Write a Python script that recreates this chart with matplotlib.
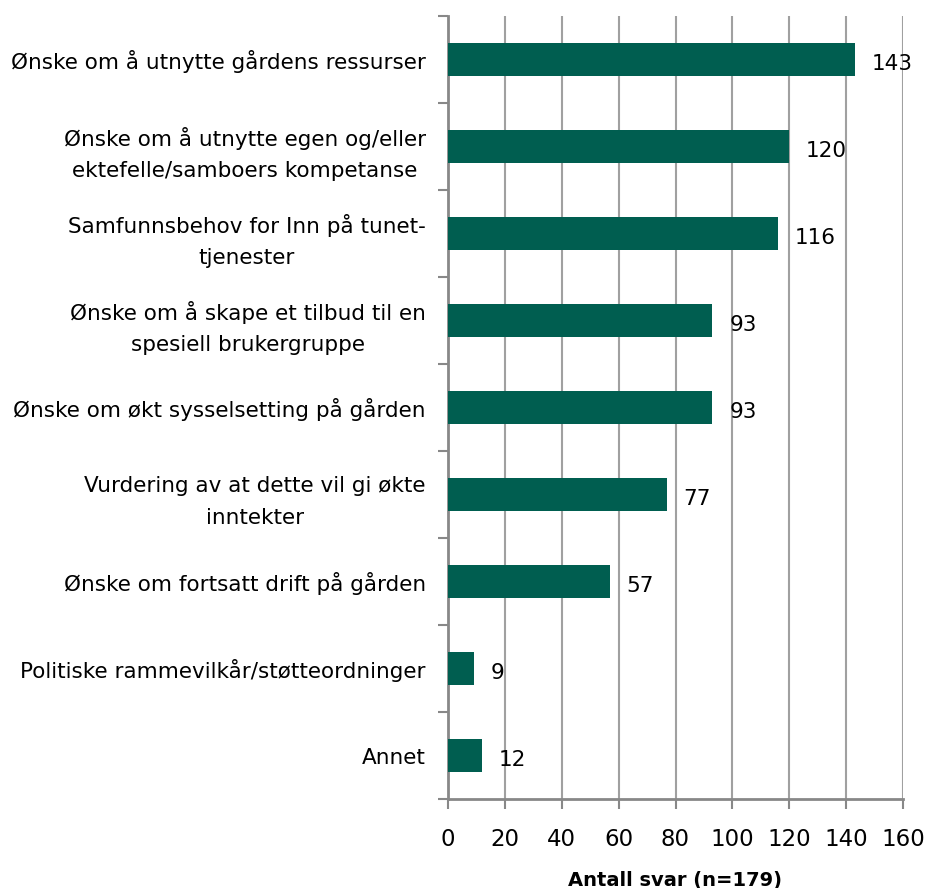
import matplotlib
matplotlib.use("Agg")
import matplotlib.pyplot as plt

# categories listed top to bottom
categories = [
    "Ønske om å utnytte gårdens ressurser",
    "Ønske om å utnytte egen og/eller\nektefelle/samboers kompetanse",
    "Samfunnsbehov for Inn på tunet-\ntjenester",
    "Ønske om å skape et tilbud til en\nspesiell brukergruppe",
    "Ønske om økt sysselsetting på gården",
    "Vurdering av at dette vil gi økte\ninntekter",
    "Ønske om fortsatt drift på gården",
    "Politiske rammevilkår/støtteordninger",
    "Annet",
]
counts = [143, 120, 116, 93, 93, 77, 57, 9, 12]
xticks = [0, 20, 40, 60, 80, 100, 120, 140, 160]

bar_color = "#005E50"
grid_color = "#A0A0A0"
font = "DejaVu Sans"

fig = plt.figure(figsize=(9.27, 8.88), dpi=100)
ax = fig.add_axes([448 / 927, 1 - 799 / 888, 455 / 927, 783 / 888])

pos = list(range(len(categories)))
ax.barh(pos, counts, height=0.39, color=bar_color, zorder=3)

for p, v in zip(pos, counts):
    ax.annotate(str(v), (v, p), xytext=(12, -3), textcoords="offset points",
                va="center", ha="left", fontsize=15.5, family=font, zorder=4)

ax.set_xlim(0, 160)
ax.set_ylim(len(categories) - 0.5, -0.5)
ax.set_xticks(xticks)
ax.set_xticklabels([str(t) for t in xticks], fontsize=16.5, family=font)
ax.set_yticks([p + 0.5 for p in pos[:-1]] + [-0.5, len(categories) - 0.5])
ax.set_yticklabels([])
ax.set_yticks(pos, minor=True)
ax.set_yticklabels(categories, minor=True, fontsize=15.5, family=font,
                   multialignment="center", linespacing=1.7)
ax.tick_params(axis="y", which="minor", length=0, pad=16)
ax.tick_params(axis="y", which="major", length=7, width=1.5, color="#888888")
ax.tick_params(axis="x", length=7, width=1.5, color="#888888", pad=14)

ax.xaxis.grid(True, color=grid_color, linewidth=1.5, zorder=0)
for s in ["top", "right"]:
    ax.spines[s].set_visible(False)
for s in ["left", "bottom"]:
    ax.spines[s].set_color("#888888")
    ax.spines[s].set_linewidth(2)

ax.set_xlabel("Antall svar (n=179)", fontsize=14, fontweight="bold",
              family=font, labelpad=14)

fig.savefig("out.png", dpi=100)
